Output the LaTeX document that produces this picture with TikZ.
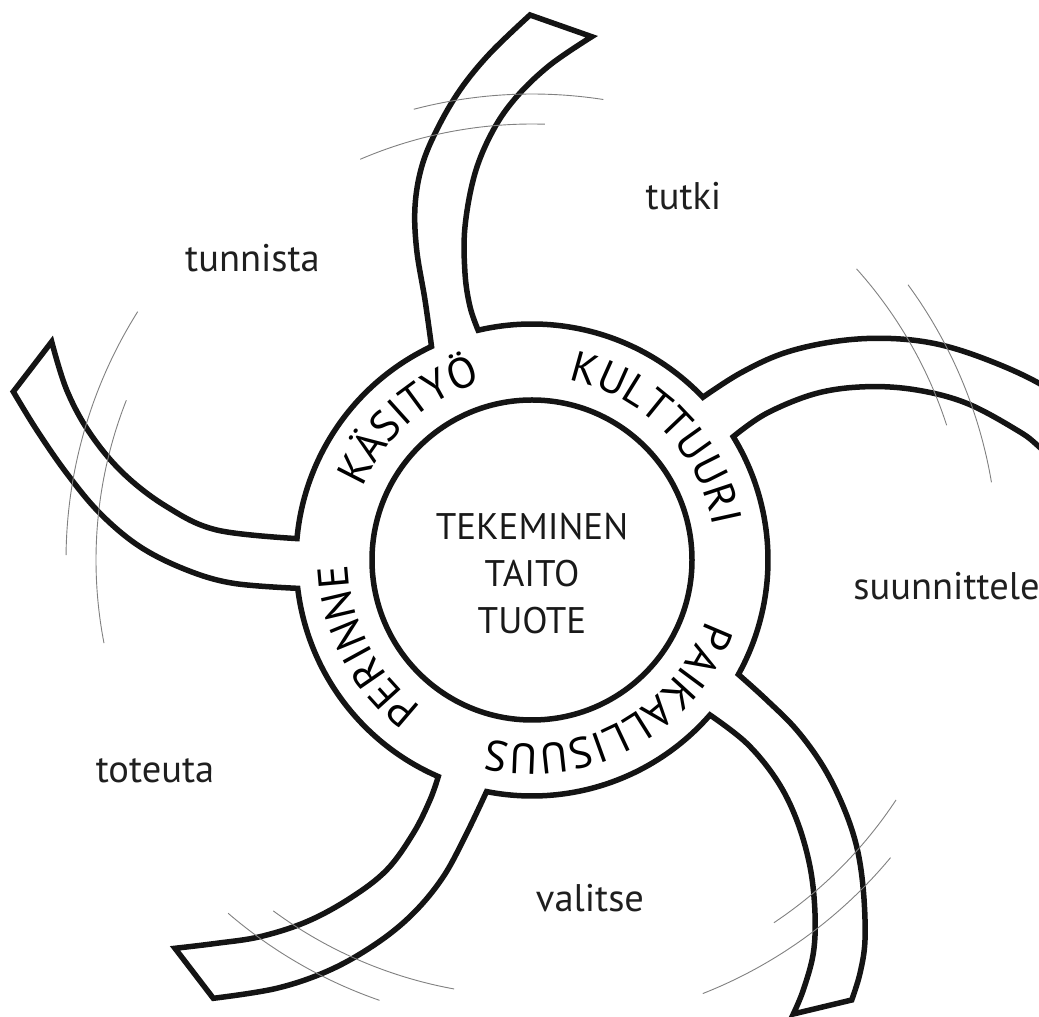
\documentclass[tikz,border=0pt]{standalone}
\usepackage{fontspec}
\setmainfont{PT Sans}
\usetikzlibrary{calc,decorations.text}
\newcommand\lblfnt{\fontsize{38.5}{46}\selectfont}
\newcommand\ringfnt{\fontsize{43}{50}\selectfont}
\newcommand\corefnt{\fontsize{37}{46.7}\selectfont}
\begin{document}
\begin{tikzpicture}[x=1pt,y=1pt,
  outline/.style={line width=5.5pt, draw=black!92, line join=miter},
  motion/.style={line width=0.9pt, draw=black!50},
  lbl/.style={font=\lblfnt, text=black!88, anchor=base, inner sep=0pt},
  core/.style={font=\corefnt, text=black!90, anchor=base, inner sep=0pt},
  ringtext/.style={decorate, decoration={text along path, text align=center, text={|\ringfnt|#1}}}
  ]
\useasboundingbox (0,0) rectangle (1039,1017);
\begin{scope}
\clip (0,0) rectangle (1039,1017);
\begin{scope}[shift={(0,1017)}, yscale=-1]
  \coordinate (C) at (532,560);
  \foreach \n/\a in {j1a/244.8, j1b/-103.2, j2a/-43.6, j2b/-31.5, j3a/29.0, j3b/41.05, j4a/101.1, j4b/113.4, j5a/173.1, j5b/185.2}
    \coordinate (\n) at ({532+236*cos(\a)},{560+236*sin(\a)});
  % ring with five arms
  \draw[outline] (j1b) arc[start angle=-103.2, end angle=-43.6, radius=236]
    -- plot[smooth,tension=0.6] coordinates {(j2a) (740,373.3) (783.3,353.3) (833.3,341.7) (883.3,338.3) (933.3,343.3) (983.3,358.3) (1039,383.3) (1090,418)}
    -- plot[smooth,tension=0.6] coordinates {(1075,482) (1039,446.7) (1016.7,430) (966.7,403.3) (916.7,390) (866.7,386.7) (816.7,393.3) (766.7,413.3) (j2b)}
    arc[start angle=-31.5, end angle=29.0, radius=236]
    -- plot[smooth,tension=0.6] coordinates {(j3a) (766.7,700) (796.7,730) (823.3,766.7) (843.3,806.7) (856.7,846.7) (863.3,890) (865,940) (860,973.3) (851.7,1000)}
    -- plot[smooth,tension=0.6] coordinates {(793.3,1014) (803.3,990) (813.3,953.3) (815,913.3) (810,866.7) (796.7,820) (776.7,780) (746.7,743.3) (j3b)}
    arc[start angle=41.05, end angle=101.1, radius=236]
    -- plot[smooth,tension=0.6] coordinates {(j4a) (466.7,833.3) (443.3,876.7) (413.3,913.3) (376.7,943.3) (330,970) (276.7,988.3) (213.3,998.3)}
    -- plot[smooth,tension=0.6] coordinates {(175,948.3) (216.7,943.3) (260,936.7) (306.7,921.7) (350,898.3) (386.7,870) (413.3,833.3) (430,800) (j4b)}
    arc[start angle=113.4, end angle=173.1, radius=236]
    -- plot[smooth,tension=0.6] coordinates {(j5a) (233.3,583.3) (186.7,570) (140,546.7) (100,513.3) (66.7,473.3) (36.7,430) (13.3,391.7)}
    -- plot[smooth,tension=0.6] coordinates {(51.7,341.7) (66.7,390) (90,433.3) (123.3,473.3) (166.7,506.7) (216.7,530) (j5b)}
    arc[start angle=185.2, end angle=244.8, radius=236]
    -- plot[smooth,tension=0.6] coordinates {(j1a) (425,300) (416.7,250) (415,206.7) (421.7,166.7) (436.7,130) (460,90) (490,53.3) (530,15)}
    -- plot[smooth,tension=0.6] coordinates {(591.7,36.7) (550,65) (516.7,96.7) (493.3,130) (475,173.3) (465,226.7) (465,273.3) (470,306.7) (j1b)}
    -- cycle;
  % inner circle
  \draw[outline] (C) circle[radius=160];
  % motion arcs
  \foreach \rad/\a/\b in {466/-104.7/-81.2, 436/-113.2/-88.3, 436/-41.9/-18, 466/-36.2/-9.6,
      436/33.4/56.3, 466/39.7/68.5, 466/130.7/109.1, 436/126.4/100.3, 466/-147.8/-179.4, 436/-158.5/-191}
    \draw[motion] ({532+\rad*cos(\a)},{560+\rad*sin(\a)}) arc[start angle=\a, end angle=\b, radius=\rad];
  % labels
  \node[lbl] (tunnista) at (252.5,271.7) {tunnista};
  \node[lbl] (tutki) at (683.5,210) {tutki};
  \node[lbl] (suunnittele) at (946.5,600) {suunnittele};
  \node[lbl] (toteuta) at (155,782.5) {toteuta};
  \node[lbl] (valitse) at (590,912) {valitse};
  \node[core] (tekeminen) at (532,540) {TEKEMINEN};
  \node[core] (taito) at (532,586.7) {TAITO};
  \node[core] (tuote) at (532,633.3) {TUOTE};
\end{scope}
\end{scope}
% ring texts (clockwise, letters facing outward)
\path[ringtext=KÄSITYÖ] ($(C)+(191.5:184)$) arc[start angle=191.5, end angle=71.5, radius=184];
\path[ringtext=KULTTUURI] ($(C)+(104.5:184)$) arc[start angle=104.5, end angle=-15.5, radius=184];
\path[ringtext=PAIKALLISUUS] ($(C)+(-1.5:184)$) arc[start angle=-1.5, end angle=-121.5, radius=184];
\path[ringtext=PERINNE] ($(C)+(267.4:184)$) arc[start angle=267.4, end angle=147.4, radius=184];
\end{tikzpicture}
\end{document}
